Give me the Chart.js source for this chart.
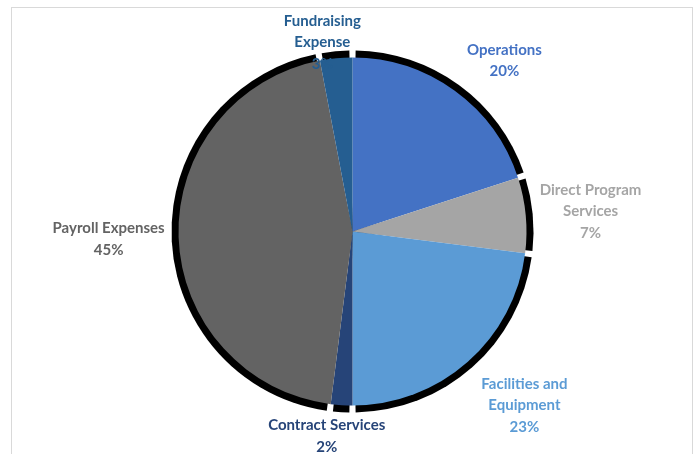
<!DOCTYPE html>
<html>
<head>
<meta charset="utf-8">
<script src="https://cdn.jsdelivr.net/npm/chart.js@4.4.1/dist/chart.umd.min.js"></script>
<style>
  html, body { margin: 0; padding: 0; background: #fff; }
  #wrap { position: relative; width: 699px; height: 454px; overflow: hidden; }
  #frame { position: absolute; left: 11px; top: 7px; width: 682px; height: 470px; border: 1.5px solid #d9d9d9; box-sizing: border-box; }
  canvas { position: absolute; left: 0; top: 0; }
</style>
</head>
<body>
<div id="wrap">
  <div id="frame"></div>
  <canvas id="c" width="699" height="454"></canvas>
</div>
<script>
const categories = ['Operations', 'Direct Program Services', 'Facilities and Equipment', 'Contract Services', 'Payroll Expenses', 'Fundraising Expense'];
const labelLines = [['Operations'], ['Direct Program', 'Services'], ['Facilities and', 'Equipment'], ['Contract Services'], ['Payroll Expenses'], ['Fundraising', 'Expense']];
const values = [20, 7, 23, 2, 45, 3];
const percentLabels = ['20%', '7%', '23%', '2%', '45%', '3%'];
const colors = ['#4472C4', '#A5A5A5', '#5B9BD5', '#264478', '#636363', '#255E91'];

const sliceShadow = {
  id: 'sliceShadow',
  beforeDatasetsDraw(chart, args, opts) {
    const ctx = chart.ctx;
    chart.getDatasetMeta(0).data.forEach(arc => {
      const p = arc.getProps(['x', 'y', 'startAngle', 'endAngle', 'outerRadius'], true);
      const trim = opts.trim / p.outerRadius;
      if (p.endAngle - p.startAngle <= 2 * trim) return;
      ctx.save();
      ctx.beginPath();
      ctx.moveTo(p.x, p.y);
      ctx.arc(p.x, p.y, p.outerRadius + opts.width, p.startAngle + trim, p.endAngle - trim);
      ctx.closePath();
      ctx.fillStyle = opts.color;
      ctx.fill();
      ctx.restore();
    });
  }
};

const outLabels = {
  id: 'outLabels',
  afterDatasetsDraw(chart, args, opts) {
    const ctx = chart.ctx;
    chart.getDatasetMeta(0).data.forEach((arc, i) => {
      const p = arc.getProps(['x', 'y', 'startAngle', 'endAngle', 'outerRadius'], true);
      const mid = (p.startAngle + p.endAngle) / 2;
      const R = p.outerRadius + opts.distance;
      const nx = opts.nudge[i][0], ny = opts.nudge[i][1];
      const cx = p.x + R * Math.cos(mid) + nx;
      const cy = p.y + R * Math.sin(mid) + ny;
      const lines = labelLines[i].concat([percentLabels[i]]);
      const lh = opts.lineHeight;
      const top = cy - (lines.length - 1) * lh / 2;
      ctx.save();
      ctx.font = opts.font;
      ctx.fillStyle = colors[i];
      ctx.textAlign = 'center';
      ctx.textBaseline = 'middle';
      lines.forEach((t, k) => ctx.fillText(t, cx, top + k * lh));
      ctx.restore();
    });
  }
};

new Chart(document.getElementById('c'), {
  type: 'pie',
  data: {
    labels: categories,
    datasets: [{
      data: values,
      backgroundColor: colors,
      borderWidth: 0
    }]
  },
  options: {
    responsive: false,
    animation: false,
    events: [],
    layout: { padding: { top: 57.5, bottom: 48.5, left: 104, right: 98 } },
    plugins: {
      legend: { display: false },
      tooltip: { enabled: false },
      sliceShadow: { width: 7, trim: 3, color: '#000' },
      outLabels: {
        distance: 30,
        lineHeight: 21.5,
        font: 'bold 15px Lato',
        nudge: [[32, -6], [35, -1], [37, 21], [-13, 1], [-40, 1], [-11, 14]]
      }
    }
  },
  plugins: [sliceShadow, outLabels]
});
</script>
</body>
</html>
